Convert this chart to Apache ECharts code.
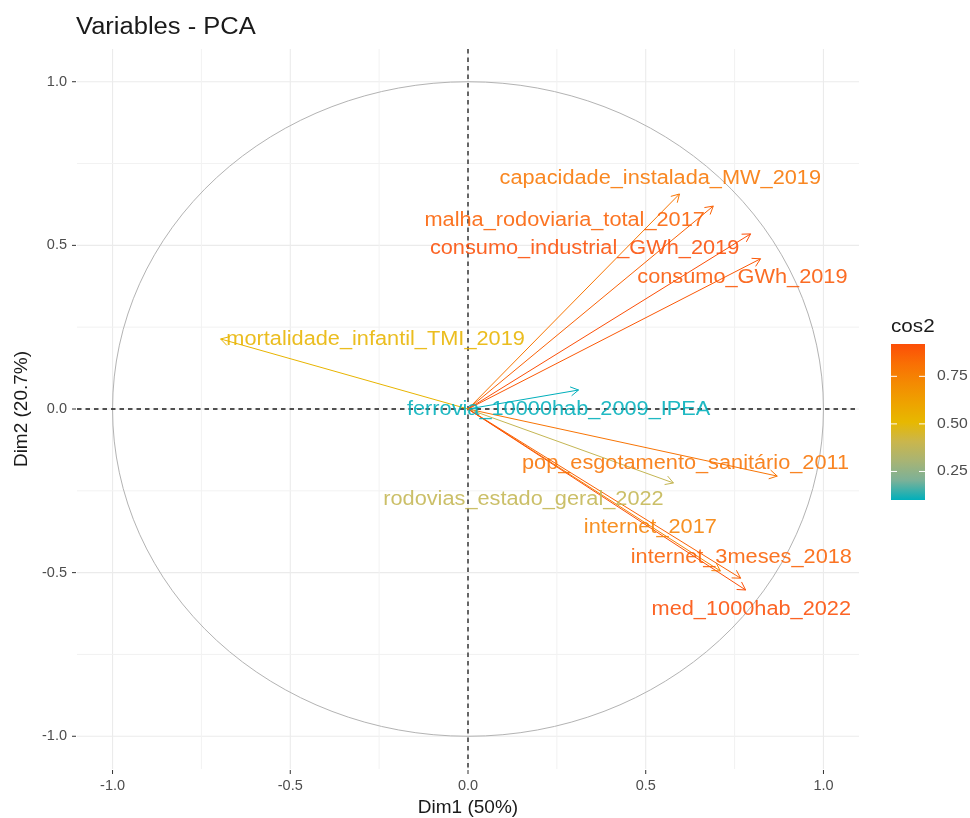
<!DOCTYPE html>
<html>
<head>
<meta charset="utf-8">
<script src="https://cdn.jsdelivr.net/npm/echarts@6/dist/echarts.min.js"></script>
<style>
html,body{margin:0;padding:0;background:#ffffff;}
#chart{width:970px;height:818px;}
</style>
</head>
<body>
<div id="chart"></div>
<script>
// ---- data ----
const variables = [
  'capacidade_instalada_MW_2019',
  'malha_rodoviaria_total_2017',
  'consumo_industrial_GWh_2019',
  'consumo_GWh_2019',
  'mortalidade_infantil_TMI_2019',
  'ferrovia_10000hab_2009_IPEA',
  'pop_esgotamento_sanitário_2011',
  'rodovias_estado_geral_2022',
  'internet_2017',
  'internet_3meses_2018',
  'med_1000hab_2022'
];
const dim1 = [0.595, 0.690, 0.795, 0.823, -0.696, 0.311, 0.870, 0.578, 0.710, 0.767, 0.781];
const dim2 = [0.657, 0.620, 0.535, 0.459, 0.214, 0.058, -0.205, -0.226, -0.495, -0.517, -0.553];
const cos2 = [0.79, 0.86, 0.92, 0.89, 0.53, 0.10, 0.80, 0.39, 0.75, 0.86, 0.92];
// label anchors (repelled text positions, in Dim units)
const labelDim1 = [0.541, 0.272, 0.328, 0.772, -0.260, 0.255, 0.612, 0.156, 0.513, 0.769, 0.797];
const labelDim2 = [0.703, 0.575, 0.489, 0.401, 0.211, 0.000, -0.168, -0.275, -0.361, -0.453, -0.612];

const axisTickValues = [-1.0, -0.5, 0.0, 0.5, 1.0];
const gridMajor = [-1.0, -0.5, 0.0, 0.5, 1.0];
const gridMinor = [-0.75, -0.25, 0.25, 0.75];
const legendTicks = [0.25, 0.50, 0.75];

const titleText = 'Variables - PCA';
const xName = 'Dim1 (50%)';
const yName = 'Dim2 (20.7%)';
const legendTitle = 'cos2';

// ---- styling ----
// gradient #00AFBB -> #E7B800 -> #FC4E07, with intermediate stops following Lab interpolation
const gradientCols = ['#00AFBB', '#7BB198', '#A8B474', '#CAB64C', '#E7B800', '#EEA200', '#F48A02', '#F96F04', '#FC4E07'];
const FONT = '"Liberation Sans", Arial, Helvetica, sans-serif';
const SX = 1.087;
const cMin = Math.min(...cos2);
const cMax = Math.max(...cos2);

const chart = echarts.init(document.getElementById('chart'));

const gridData = gridMajor.map(v => [v, 1]).concat(gridMinor.map(v => [v, 0]));

function renderGrid(params, api) {
  const cs = params.coordSys;
  const v = api.value(0);
  const major = api.value(1) === 1;
  const px = api.coord([v, 0])[0];
  const py = api.coord([0, v])[1];
  const style = { stroke: major ? '#EBEBEB' : '#F2F2F2', lineWidth: major ? 1.1 : 1 };
  const children = [
    { type: 'line', shape: { x1: px, y1: cs.y, x2: px, y2: cs.y + cs.height }, style: style },
    { type: 'line', shape: { x1: cs.x, y1: py, x2: cs.x + cs.width, y2: py }, style: style }
  ];
  if (major && axisTickValues.indexOf(v) >= 0) {
    const tickStyle = { stroke: '#333333', lineWidth: 1 };
    children.push(
      { type: 'line', shape: { x1: px, y1: cs.y + cs.height + 1, x2: px, y2: cs.y + cs.height + 5 }, style: tickStyle },
      { type: 'line', shape: { x1: cs.x - 5, y1: py, x2: cs.x - 1, y2: py }, style: tickStyle }
    );
  }
  return { type: 'group', children: children };
}

function renderCircle(params, api) {
  const c = api.coord([0, 0]);
  const rx = api.coord([1, 0])[0] - c[0];
  const ry = c[1] - api.coord([0, 1])[1];
  const d = 'M ' + (c[0] - rx) + ' ' + c[1] +
    ' A ' + rx + ' ' + ry + ' 0 1 0 ' + (c[0] + rx) + ' ' + c[1] +
    ' A ' + rx + ' ' + ry + ' 0 1 0 ' + (c[0] - rx) + ' ' + c[1] + ' Z';
  return { type: 'path', shape: { pathData: d }, style: { stroke: '#B3B3B3', fill: null, lineWidth: 1 } };
}

function renderZeroLines(params, api) {
  const cs = params.coordSys;
  const c = api.coord([0, 0]);
  const style = { stroke: '#1a1a1a', lineWidth: 1.3, lineDash: [4.5, 4] };
  return {
    type: 'group',
    children: [
      { type: 'line', shape: { x1: c[0], y1: cs.y, x2: c[0], y2: cs.y + cs.height }, style: style },
      { type: 'line', shape: { x1: cs.x, y1: c[1], x2: cs.x + cs.width, y2: c[1] }, style: style }
    ]
  };
}

function renderArrow(params, api) {
  const p0 = api.coord([0, 0]);
  const p1 = api.coord([api.value(0), api.value(1)]);
  const color = api.visual('color');
  const ang = Math.atan2(p1[1] - p0[1], p1[0] - p0[0]);
  const L = 9, a = Math.PI / 6;
  const h1 = [p1[0] - L * Math.cos(ang - a), p1[1] - L * Math.sin(ang - a)];
  const h2 = [p1[0] - L * Math.cos(ang + a), p1[1] - L * Math.sin(ang + a)];
  return {
    type: 'group',
    children: [
      { type: 'line', shape: { x1: p0[0], y1: p0[1], x2: p1[0], y2: p1[1] }, style: { stroke: color, lineWidth: 1 } },
      { type: 'polyline', shape: { points: [h1, p1, h2] }, style: { stroke: color, fill: null, lineWidth: 1 } }
    ]
  };
}

function renderLabel(params, api) {
  const p = api.coord([api.value(0), api.value(1)]);
  const color = api.visual('color');
  return {
    type: 'text',
    x: p[0], y: p[1],
    scaleX: SX,
    style: {
      text: variables[params.dataIndex],
      fill: color,
      opacity: 0.88,
      font: '20px ' + FONT,
      align: 'center',
      verticalAlign: 'middle'
    }
  };
}

// legend (colour bar) geometry
const barX = 891, barY = 344, barW = 34, barH = 156;
const legendGraphics = [
  {
    type: 'rect',
    shape: { x: barX, y: barY, width: barW, height: barH },
    style: {
      fill: new echarts.graphic.LinearGradient(0, 1, 0, 0,
        gradientCols.map((c, i) => ({ offset: i / (gradientCols.length - 1), color: c })))
    }
  },
  {
    type: 'text', x: barX, y: 327, scaleX: SX,
    style: { text: legendTitle, font: '19px ' + FONT, fill: '#1a1a1a', align: 'left', verticalAlign: 'middle' }
  }
];
legendTicks.forEach(v => {
  const y = barY + barH - (v - cMin) / (cMax - cMin) * barH;
  legendGraphics.push(
    { type: 'line', shape: { x1: barX, y1: y, x2: barX + 6, y2: y }, style: { stroke: '#ffffff', lineWidth: 1 } },
    { type: 'line', shape: { x1: barX + barW - 6, y1: y, x2: barX + barW, y2: y }, style: { stroke: '#ffffff', lineWidth: 1 } },
    { type: 'text', x: 937, y: y, scaleX: SX,
      style: { text: v.toFixed(2), font: '14.5px ' + FONT, fill: '#4D4D4D', align: 'left', verticalAlign: 'middle' } }
  );
});
legendGraphics.push({
  type: 'text', x: 76, y: 28, scaleX: SX,
  style: { text: titleText, font: '23.5px ' + FONT, fill: '#1a1a1a', align: 'left', verticalAlign: 'middle' }
});

const option = {
  backgroundColor: '#ffffff',
  animation: false,
  grid: { left: 77, right: 111, top: 49, bottom: 49, containLabel: false, outerBoundsMode: 'none' },
  xAxis: {
    type: 'value', min: -1.1, max: 1.1,
    splitLine: { show: false },
    axisLine: { show: false, onZero: false },
    axisTick: { show: false },
    axisLabel: { customValues: axisTickValues, formatter: v => Number(v).toFixed(1), color: '#4D4D4D', fontSize: 14.5, fontFamily: FONT, margin: 9 },
    name: xName, nameLocation: 'middle', nameGap: 28,
    nameTextStyle: { fontSize: 19, color: '#1a1a1a', fontFamily: FONT }
  },
  yAxis: {
    type: 'value', min: -1.1, max: 1.1,
    splitLine: { show: false },
    axisLine: { show: false, onZero: false },
    axisTick: { show: false },
    axisLabel: { customValues: axisTickValues, formatter: v => Number(v).toFixed(1), color: '#4D4D4D', fontSize: 14.5, fontFamily: FONT, margin: 10 },
    name: yName, nameLocation: 'middle', nameGap: 45, nameRotate: 90,
    nameTextStyle: { fontSize: 19, color: '#1a1a1a', fontFamily: FONT }
  },
  visualMap: {
    type: 'continuous', show: false, min: cMin, max: cMax, dimension: 2,
    seriesIndex: [3, 4],
    inRange: { color: gradientCols }
  },
  graphic: legendGraphics,
  series: [
    { type: 'custom', silent: true, renderItem: renderGrid, data: gridData, z: 1 },
    { type: 'custom', silent: true, renderItem: renderCircle, data: [[0, 0]], z: 2 },
    { type: 'custom', silent: true, renderItem: renderZeroLines, data: [[0, 0]], z: 3 },
    { type: 'custom', silent: true, renderItem: renderArrow, data: dim1.map((x, i) => [x, dim2[i], cos2[i]]), z: 4 },
    { type: 'custom', silent: true, renderItem: renderLabel, data: labelDim1.map((x, i) => [x, labelDim2[i], cos2[i]]), z: 5 }
  ]
};
chart.setOption(option);
</script>
</body>
</html>
